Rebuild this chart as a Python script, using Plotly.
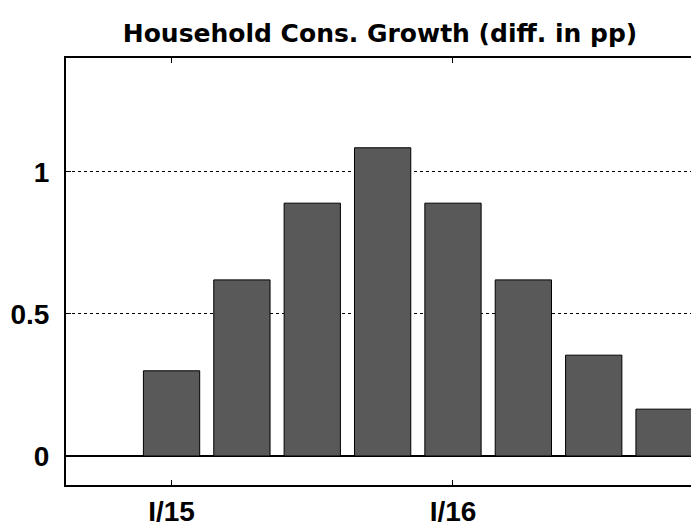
import plotly.graph_objects as go

# quarters and the difference in household consumption growth (pp)
quarters = ['I/15', 'II/15', 'III/15', 'IV/15', 'I/16', 'II/16', 'III/16', 'IV/16']
diff_pp = [0.30, 0.62, 0.89, 1.085, 0.89, 0.62, 0.355, 0.165]

tick_quarters = ['I/15', 'I/16']
y_ticks = [0, 0.5, 1]
y_labels = ['0', '0.5', '1']

# the page puts the figure 8px in from the top-left corner, so margins allow for it
fig = go.Figure(go.Bar(
    x=quarters,
    y=diff_pp,
    marker=dict(color='#595959', line=dict(color='black', width=1)),
))

fig.update_layout(
    width=699,
    height=526,
    margin=dict(l=58, r=0, t=50, b=49),
    plot_bgcolor='white',
    paper_bgcolor='white',
    bargap=0.2,
    showlegend=False,
    title=dict(
        text='Household Cons. Growth (diff. in pp)',
        x=372 / 699, xref='container', xanchor='center',
        y=1 - 25 / 526, yref='container', yanchor='middle',
        font=dict(family='DejaVu Sans', size=25, color='black', weight='bold'),
    ),
)

fig.update_xaxes(
    type='category',
    range=[-1.5, 7.61],
    tickvals=tick_quarters,
    ticktext=tick_quarters,
    ticks='inside', ticklen=5, tickwidth=1, tickcolor='black',
    showline=True, linecolor='black', linewidth=2, mirror='ticks',
    showgrid=False,
    automargin=False,
    ticklabelstandoff=0,
    tickfont=dict(family='Liberation Sans', size=28, color='black', weight='bold'),
)

fig.update_yaxes(
    range=[-0.102, 1.401],
    tickvals=y_ticks,
    ticktext=y_labels,
    ticks='inside', ticklen=5, tickwidth=1, tickcolor='black',
    showline=True, linecolor='black', linewidth=2, mirror='ticks',
    showgrid=True, gridcolor='black', gridwidth=1, griddash='dot',
    zeroline=True, zerolinecolor='black', zerolinewidth=2,
    automargin=False,
    ticklabelstandoff=9,
    tickfont=dict(family='Liberation Sans', size=28, color='black', weight='bold'),
)

fig.write_html("out.html")
